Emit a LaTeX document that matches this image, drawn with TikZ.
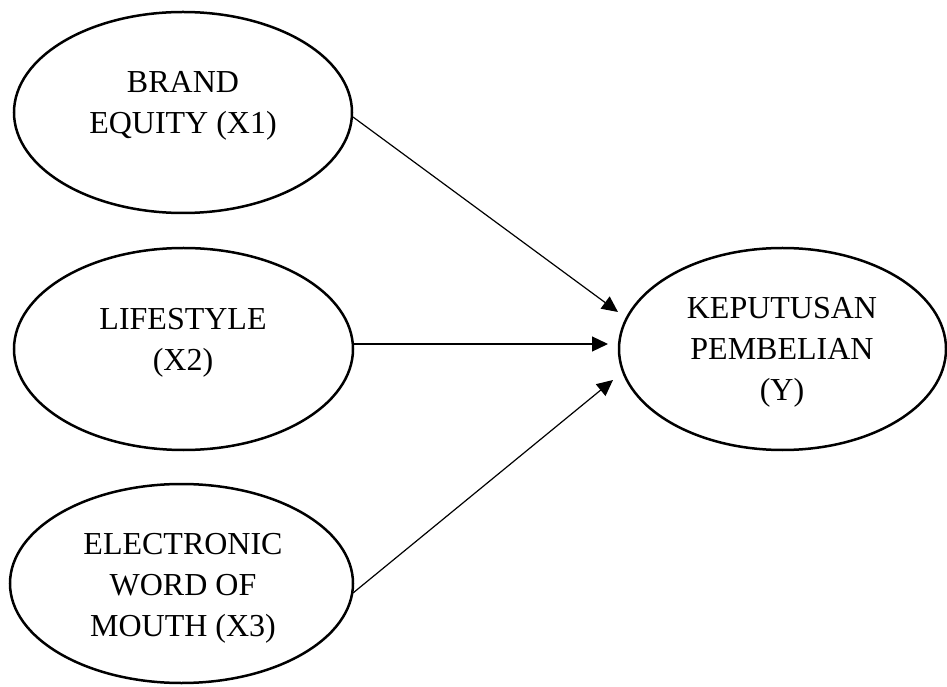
\documentclass[tikz,border=0pt]{standalone}
\usepackage{fontspec}
\setmainfont{Liberation Serif}
\usetikzlibrary{shapes.geometric,arrows.meta}
\begin{document}
\begin{tikzpicture}[x=1pt,y=1pt,
  ell/.style={draw,line width=2.5pt,ellipse,inner sep=0pt},
  txt/.style={align=center,font=\fontsize{32}{41}\selectfont,inner sep=0pt},
  arr/.style={line width=1.2pt,-{Triangle[length=16pt,width=15pt]}}]
\useasboundingbox (0,0) rectangle (947,686);
\node[ell,minimum width=338pt,minimum height=201pt] (x1) at (183,573.5) {};
\node[ell,minimum width=339pt,minimum height=202pt] (x2) at (183.5,337) {};
\node[ell,minimum width=343pt,minimum height=199pt] (x3) at (181.5,102.5) {};
\node[ell,minimum width=327pt,minimum height=202pt] (y) at (782.5,337) {};
\node[txt] (t1) at (183,580) {BRAND\\EQUITY (X1)};
\node[txt] (t2) at (183,343) {LIFESTYLE\\(X2)};
\node[txt] (t3) at (183,98) {ELECTRONIC\\WORD OF\\MOUTH (X3)};
\node[txt] (ty) at (782,334) {KEPUTUSAN\\PEMBELIAN\\(Y)};
\coordinate (e1) at (618,374);
\coordinate (e2) at (608,342);
\coordinate (e3) at (613,306);
\coordinate (s1) at (353,569);
\coordinate (s2) at (353,342);
\coordinate (s3) at (353,93);
\draw[arr] (s1) -- (e1);
\draw[arr] (s2) -- (e2);
\draw[arr] (s3) -- (e3);
\end{tikzpicture}
\end{document}
